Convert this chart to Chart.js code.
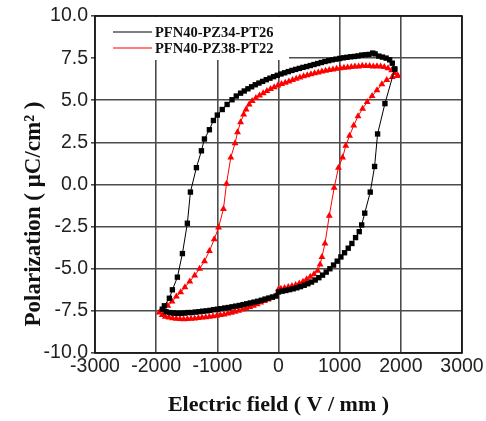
<!DOCTYPE html>
<html>
<head>
<meta charset="utf-8">
<script src="https://cdn.jsdelivr.net/npm/chart.js@4"></script>
<style>
html,body{margin:0;padding:0;background:#fff;}
#wrap{width:486px;height:421px;position:relative;}
</style>
</head>
<body>
<div id="wrap"><canvas id="c" width="486" height="421"></canvas></div>
<script>
// ---- data ----
const SERIES_NAMES = ["PFN40-PZ34-PT26", "PFN40-PZ38-PT22"];
const X_TITLE = "Electric field ( V / mm )";
const Y_TITLE = "Polarization ( \u03bcC/cm\u00b2 )";

const BLACK_X = [1900,1860,1817,1760,1700,1640,1580,1540,1480,1420,1360,1300,1240,1180,1120,1060,1000,940,880,820,760,700,640,580,520,460,400,340,280,220,160,100,40,-20,-80,-140,-200,-260,-320,-380,-440,-500,-560,-620,-690,-760,-840,-920,-1000,-1064,-1130,-1211,-1260,-1342,-1440,-1490,-1571,-1653,-1735,-1784,-1866,-1900,
  -1840,-1780,-1720,-1660,-1600,-1540,-1480,-1420,-1360,-1300,-1240,-1180,-1120,-1060,-1000,-940,-880,-820,-760,-700,-640,-580,-520,-460,-400,-340,-280,-220,-160,-100,-40,0,60,120,180,240,300,360,420,480,540,600,660,720,780,840,900,960,1020,1080,1140,1200,1260,1320,1360,1410,1500,1571,1620,1740,1900];
const BLACK_Y = [6.85,7.2,7.4,7.5,7.56,7.62,7.75,7.8,7.72,7.7,7.68,7.63,7.6,7.58,7.55,7.52,7.48,7.44,7.4,7.35,7.3,7.24,7.18,7.12,7.06,7.0,6.95,6.89,6.83,6.77,6.7,6.63,6.56,6.48,6.4,6.31,6.22,6.12,6.02,5.92,5.8,5.68,5.55,5.42,5.25,5.03,4.75,4.45,4.12,3.8,3.25,2.7,2.0,1.0,-0.45,-2.3,-4.1,-5.5,-6.25,-6.75,-7.2,-7.4,
  -7.55,-7.6,-7.63,-7.65,-7.65,-7.63,-7.6,-7.6,-7.57,-7.55,-7.52,-7.5,-7.47,-7.43,-7.4,-7.37,-7.33,-7.3,-7.26,-7.22,-7.18,-7.13,-7.08,-7.03,-6.98,-6.93,-6.87,-6.8,-6.74,-6.68,-6.62,-6.38,-6.33,-6.29,-6.24,-6.19,-6.13,-6.06,-5.98,-5.89,-5.79,-5.67,-5.53,-5.38,-5.2,-5.0,-4.78,-4.55,-4.3,-4.05,-3.78,-3.5,-3.15,-2.8,-2.4,-1.7,-0.45,1.07,3.0,4.8,6.85];

const RED_X = [1950,1900,1850,1790,1730,1670,1610,1550,1490,1430,1370,1310,1250,1190,1130,1070,1010,950,890,830,770,710,650,590,530,470,410,350,290,230,170,110,50,-10,-70,-130,-190,-250,-310,-370,-430,-480,-530,-570,-620,-670,-710,-780,-850,-900,-980,-1050,-1130,-1210,-1290,-1370,-1450,-1530,-1600,-1670,-1740,-1810,-1880,-1950,
  -1900,-1850,-1790,-1730,-1670,-1610,-1550,-1490,-1430,-1370,-1310,-1250,-1190,-1130,-1070,-1010,-950,-890,-830,-770,-710,-650,-590,-530,-470,-410,-350,-290,-230,-170,-110,-50,0,40,100,160,220,280,340,400,460,520,580,640,680,710,760,830,910,980,1048,1100,1162,1230,1300,1375,1450,1530,1610,1690,1770,1860,1950];
const RED_Y = [6.45,6.62,6.78,6.9,6.97,7.0,7.02,7.0,7.04,7.03,7.05,7.0,7.0,6.98,6.95,6.93,6.9,6.87,6.83,6.79,6.75,6.7,6.65,6.6,6.54,6.48,6.42,6.35,6.28,6.2,6.12,6.04,5.96,5.87,5.77,5.67,5.55,5.42,5.28,5.13,4.96,4.75,4.45,4.15,3.7,3.1,2.45,1.6,0.05,-1.45,-2.55,-3.25,-3.95,-4.55,-5.0,-5.4,-5.75,-6.1,-6.4,-6.65,-6.95,-7.2,-7.45,-7.6,
  -7.75,-7.85,-7.9,-7.94,-7.96,-7.98,-8.0,-7.98,-7.97,-7.95,-7.93,-7.9,-7.88,-7.85,-7.82,-7.79,-7.75,-7.71,-7.66,-7.61,-7.55,-7.49,-7.42,-7.35,-7.27,-7.19,-7.1,-7.0,-6.91,-6.82,-6.73,-6.63,-6.22,-6.18,-6.14,-6.09,-6.03,-5.96,-5.87,-5.77,-5.63,-5.48,-5.32,-5.12,-4.75,-4.3,-3.5,-1.85,-0.2,1.0,1.6,2.3,2.9,3.5,4.05,4.5,4.9,5.25,5.6,5.95,6.2,6.38,6.45];

const X_RANGE = [-3000, 3000];
const Y_RANGE = [-10, 10];
const X_STEP = 1000;
const Y_STEP = 2.5;

const SANS = "'Liberation Sans', Arial, sans-serif";
const SERIF = "'Liberation Serif', 'Times New Roman', serif";

function toPoints(xs, ys){ return xs.map((x,i)=>({x:x, y:ys[i]})); }

const COLORS = ['#000000', '#ff0000'];
const STYLES = ['rect', 'triangle'];

// legend drawn inside plot with white background
const legendPlugin = {
  id: 'insideLegend',
  beforeDatasetsDraw(chart){
    const ctx = chart.ctx, a = chart.chartArea;
    ctx.save();
    ctx.fillStyle = '#fff';
    ctx.fillRect(a.left + 1, a.top + 1, 193, 43);
    ctx.font = 'bold 14.5px ' + SERIF;
    ctx.textBaseline = 'middle';
    ctx.textAlign = 'left';
    const rows = [a.top + 16, a.top + 32];
    chart.data.datasets.forEach((ds, i) => {
      const y = rows[i];
      const x0 = a.left + 18, x1 = a.left + 57;
      ctx.strokeStyle = ds.borderColor;
      ctx.lineWidth = 1.2;
      ctx.beginPath(); ctx.moveTo(x0, y); ctx.lineTo(x1, y); ctx.stroke();
      ctx.fillStyle = ds.borderColor;
      Chart.helpers.drawPoint(ctx, {pointStyle: ds.pointStyle, rotation: 0, borderWidth: 1}, (x0 + x1) / 2, y);
      ctx.fillStyle = '#111';
      ctx.fillText(ds.label, a.left + 60, y + 1);
    });
    ctx.restore();
  },
  afterDatasetsDraw(chart){
    const ctx = chart.ctx, a = chart.chartArea;
    ctx.save();
    ctx.strokeStyle = '#111';
    ctx.lineWidth = 1.6;
    ctx.strokeRect(a.left, a.top, a.right - a.left, a.bottom - a.top);
    ctx.restore();
  },
  afterDraw(chart){
    const ctx = chart.ctx;
    ctx.save();
    ctx.translate(34, 214);
    ctx.rotate(-Math.PI / 2);
    ctx.font = 'bold 23px ' + SERIF;
    ctx.fillStyle = '#111';
    ctx.textAlign = 'center';
    ctx.textBaseline = 'middle';
    ctx.fillText(Y_TITLE, 0, 0);
    ctx.restore();
  }
};

new Chart(document.getElementById('c'), {
  type: 'scatter',
  data: {
    datasets: [
      { label: SERIES_NAMES[0], data: toPoints(BLACK_X, BLACK_Y), showLine: true,
        borderColor: COLORS[0], backgroundColor: COLORS[0], borderWidth: 1,
        pointStyle: STYLES[0], pointRadius: 3.8, pointBorderWidth: 0, tension: 0 },
      { label: SERIES_NAMES[1], data: toPoints(RED_X, RED_Y), showLine: true,
        borderColor: COLORS[1], backgroundColor: COLORS[1], borderWidth: 1,
        pointStyle: STYLES[1], pointRadius: 4, pointBorderWidth: 0, tension: 0 }
    ]
  },
  options: {
    responsive: false,
    animation: false,
    devicePixelRatio: 1,
    layout: { padding: { top: 16, right: 24, left: 0, bottom: 0 } },
    plugins: { legend: { display: false }, tooltip: { enabled: false } },
    scales: {
      x: {
        type: 'linear', min: X_RANGE[0], max: X_RANGE[1],
        ticks: { stepSize: X_STEP, color: '#222', font: { family: SANS, size: 19.5 }, padding: 2, maxRotation: 0, autoSkip: false,
                 callback: v => String(v) },
        grid: { color: '#4c4c4c', lineWidth: 1.6, drawTicks: false },
        border: { display: false },
        title: { display: true, text: X_TITLE, color: '#111', font: { family: SERIF, size: 22, weight: 'bold' }, padding: { top: 0, bottom: 2 } },
        afterFit(axis){ axis.height = 68; }
      },
      y: {
        type: 'linear', min: Y_RANGE[0], max: Y_RANGE[1],
        ticks: { stepSize: Y_STEP, color: '#222', font: { family: SANS, size: 19.5 }, padding: 3,
                 callback: v => Number(v).toFixed(1) },
        grid: { color: '#4c4c4c', lineWidth: 1.6, tickLength: 4 },
        border: { display: false },
        afterFit(axis){ axis.width = 95; }
      }
    }
  },
  plugins: [legendPlugin]
});
</script>
</body>
</html>
